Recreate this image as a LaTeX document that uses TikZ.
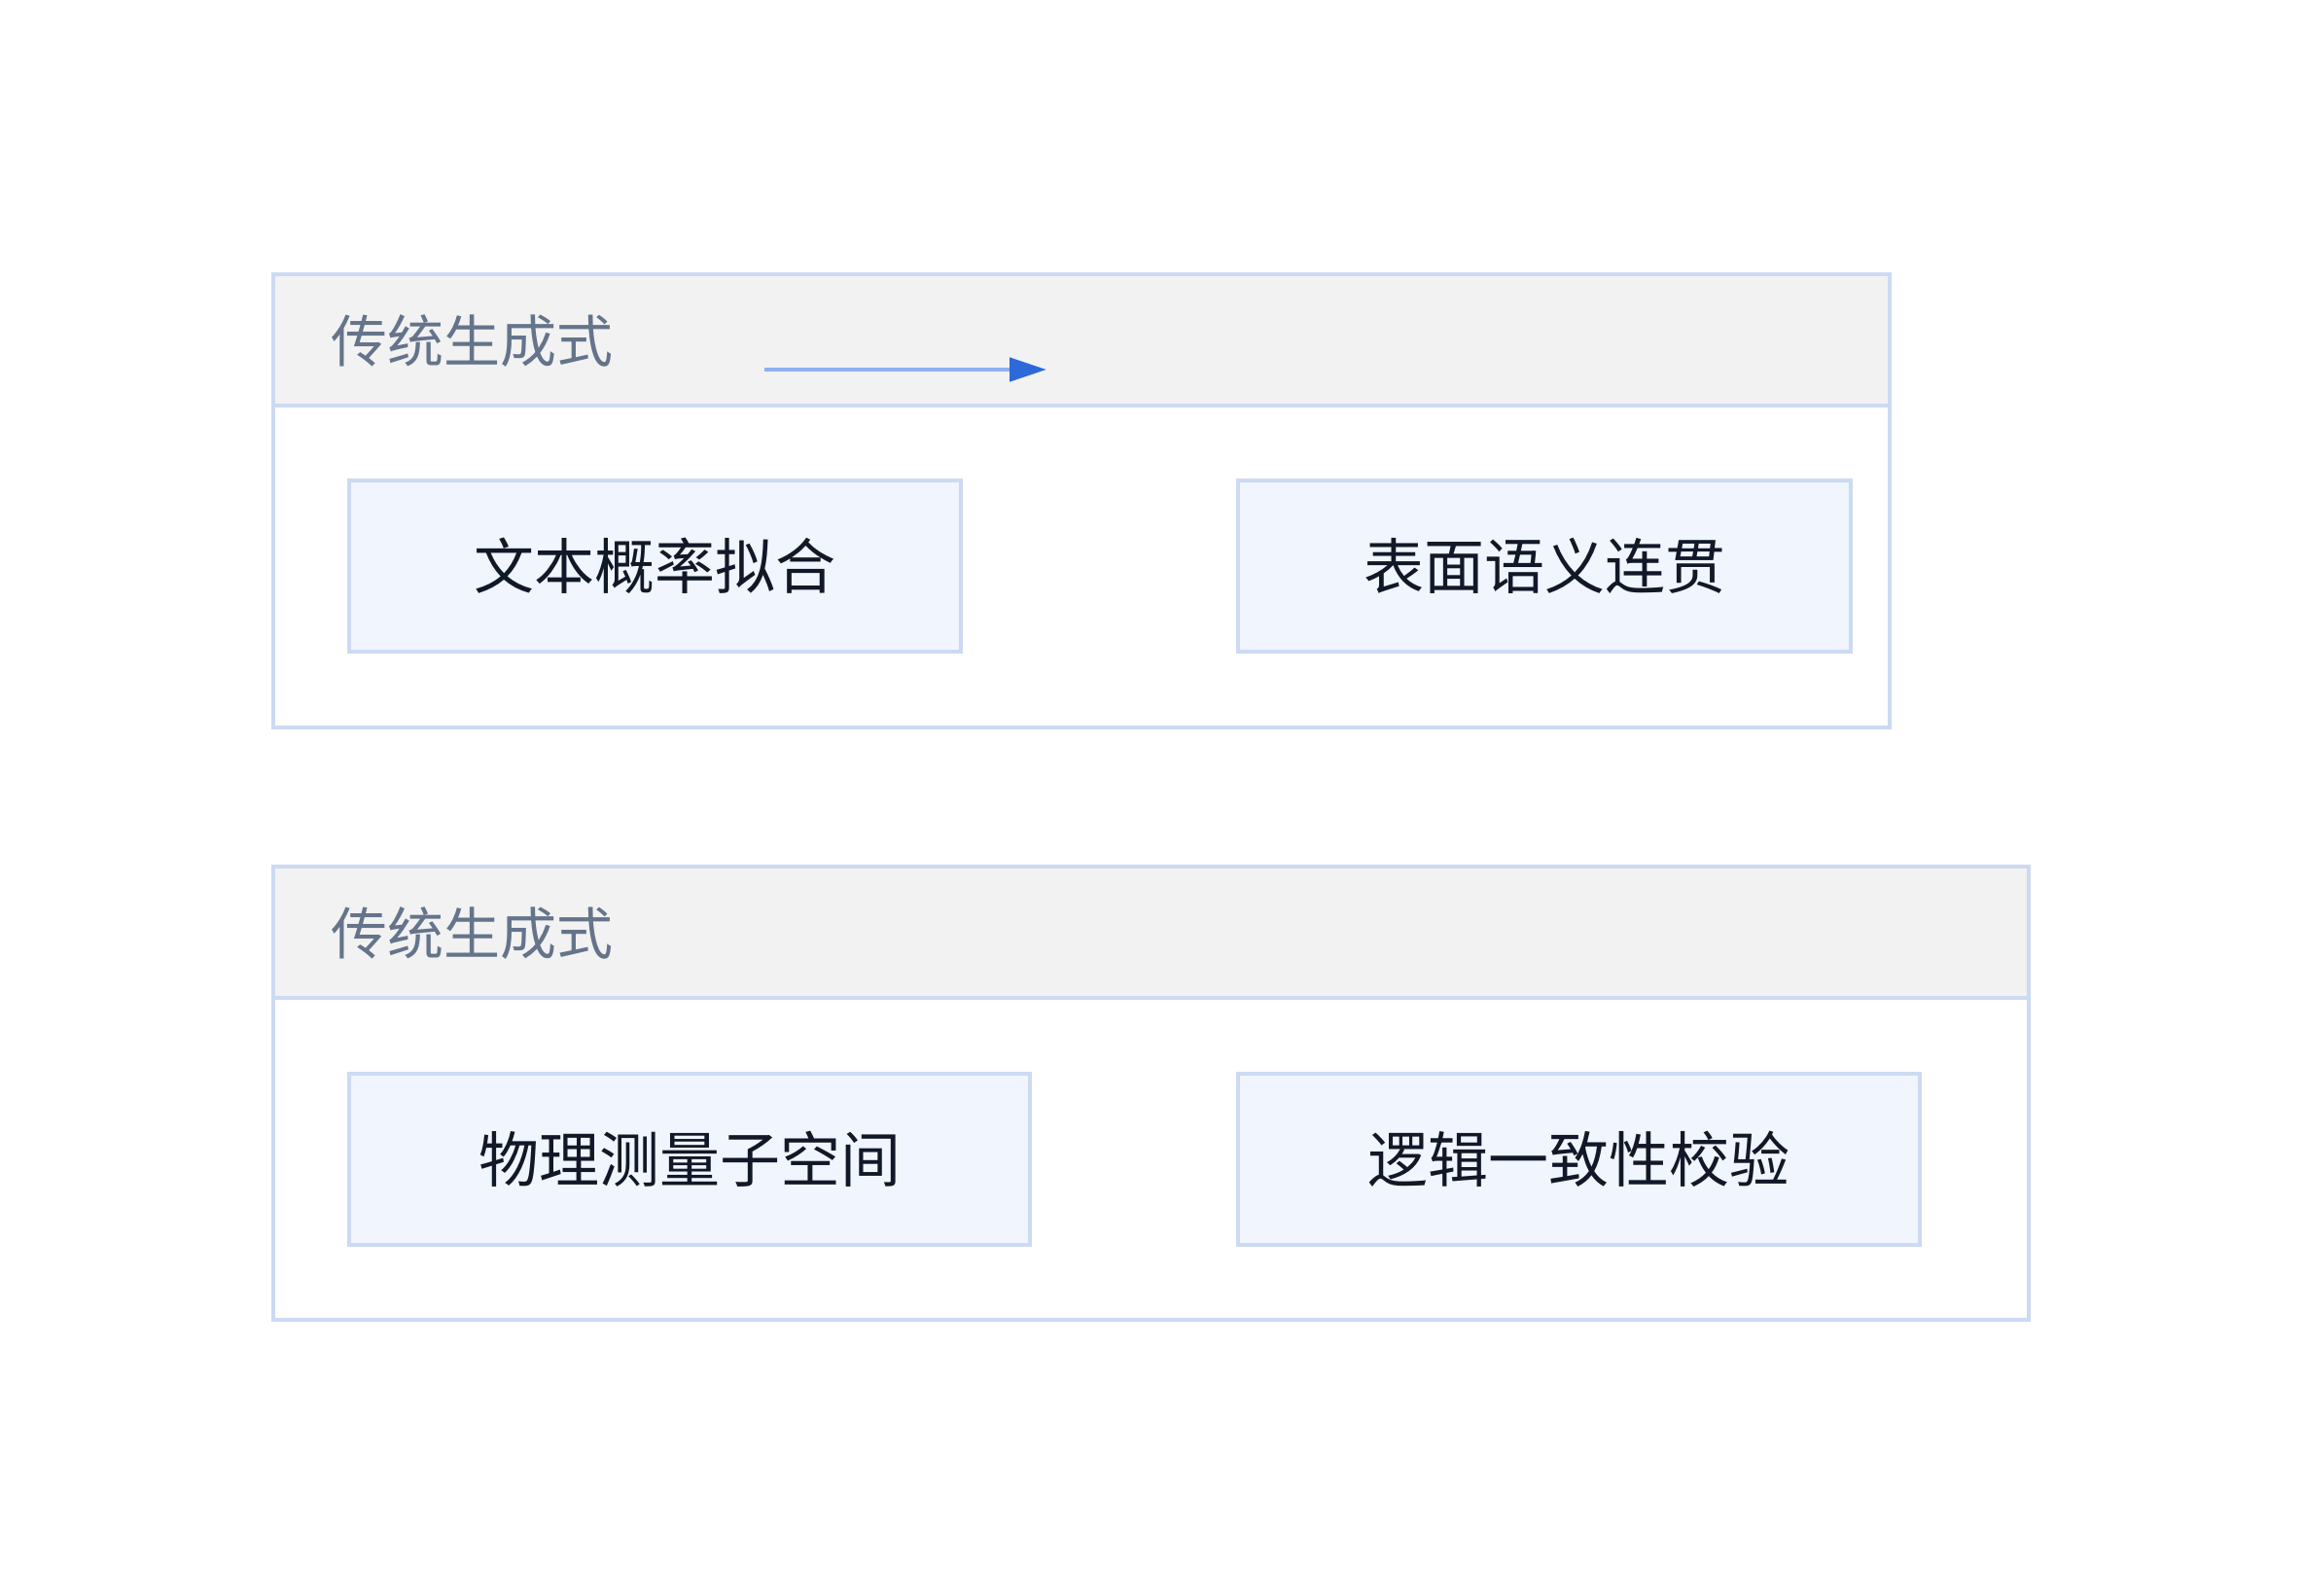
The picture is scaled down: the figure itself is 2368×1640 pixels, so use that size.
\documentclass[tikz,border=0pt]{standalone}
\usepackage{fontspec}
\newfontfamily\cjk{Noto Sans CJK SC}
\usetikzlibrary{arrows.meta}
\definecolor{bordc}{HTML}{CCDAF2}
\definecolor{hdrfill}{HTML}{F2F2F2}
\definecolor{innerfill}{HTML}{F0F5FE}
\definecolor{hdrtext}{HTML}{64748B}
\definecolor{maintext}{HTML}{111827}
\definecolor{arrline}{HTML}{8EB0EE}
\definecolor{arrhead}{HTML}{2E69DA}
\tikzset{
  outerbox/.style={draw=bordc, line width=2.35pt, fill=white, inner sep=0pt, rectangle},
  headerbox/.style={draw=bordc, line width=2.35pt, fill=hdrfill, inner sep=0pt, rectangle},
  innerbox/.style={draw=bordc, line width=1.8pt, fill=innerfill, inner sep=0pt, rectangle,
    minimum height=88pt, font=\cjk\fontsize{31pt}{36pt}\selectfont, text=maintext},
  hdrlabel/.style={inner sep=0pt, anchor=west, font=\cjk\fontsize{29pt}{34pt}\selectfont, text=hdrtext},
  flowarrow/.style={line width=2.35pt, draw=arrline, -{Triangle[length=19pt,width=12pt,color=arrhead]}}
}
\begin{document}
\begin{tikzpicture}[x=0.5pt,y=-0.5pt]
\fill[white] (0,0) rectangle (2368,1640);
\useasboundingbox (0,0) rectangle (2368,1640);
% group 1
\node[outerbox, minimum width=831pt, minimum height=233pt] (box1) at (1112,515) {};
\node[headerbox, minimum width=831pt, minimum height=67.5pt] (hdr1) at (1112,349.5) {};
\node[hdrlabel] (title1) at (340,351) {传统生成式};
\node[innerbox, minimum width=314.5pt] (a) at (673.5,582) {文本概率拟合};
\node[innerbox, minimum width=315pt] (b) at (1588,582) {表面语义连贯};
\coordinate (arrs) at (786,380);
\coordinate (arre) at (1076,380);
\draw[flowarrow] (arrs) -- (arre);
% group 2
\node[outerbox, minimum width=902.5pt, minimum height=233pt] (box2) at (1183.5,1124) {};
\node[headerbox, minimum width=902.5pt, minimum height=67.5pt] (hdr2) at (1183.5,958.5) {};
\node[hdrlabel] (title2) at (340,960) {传统生成式};
\node[innerbox, minimum width=350pt] (c) at (709,1192) {物理测量子空间};
\node[innerbox, minimum width=350.5pt] (d) at (1623.5,1192) {逻辑一致性校验};
\end{tikzpicture}
\end{document}
